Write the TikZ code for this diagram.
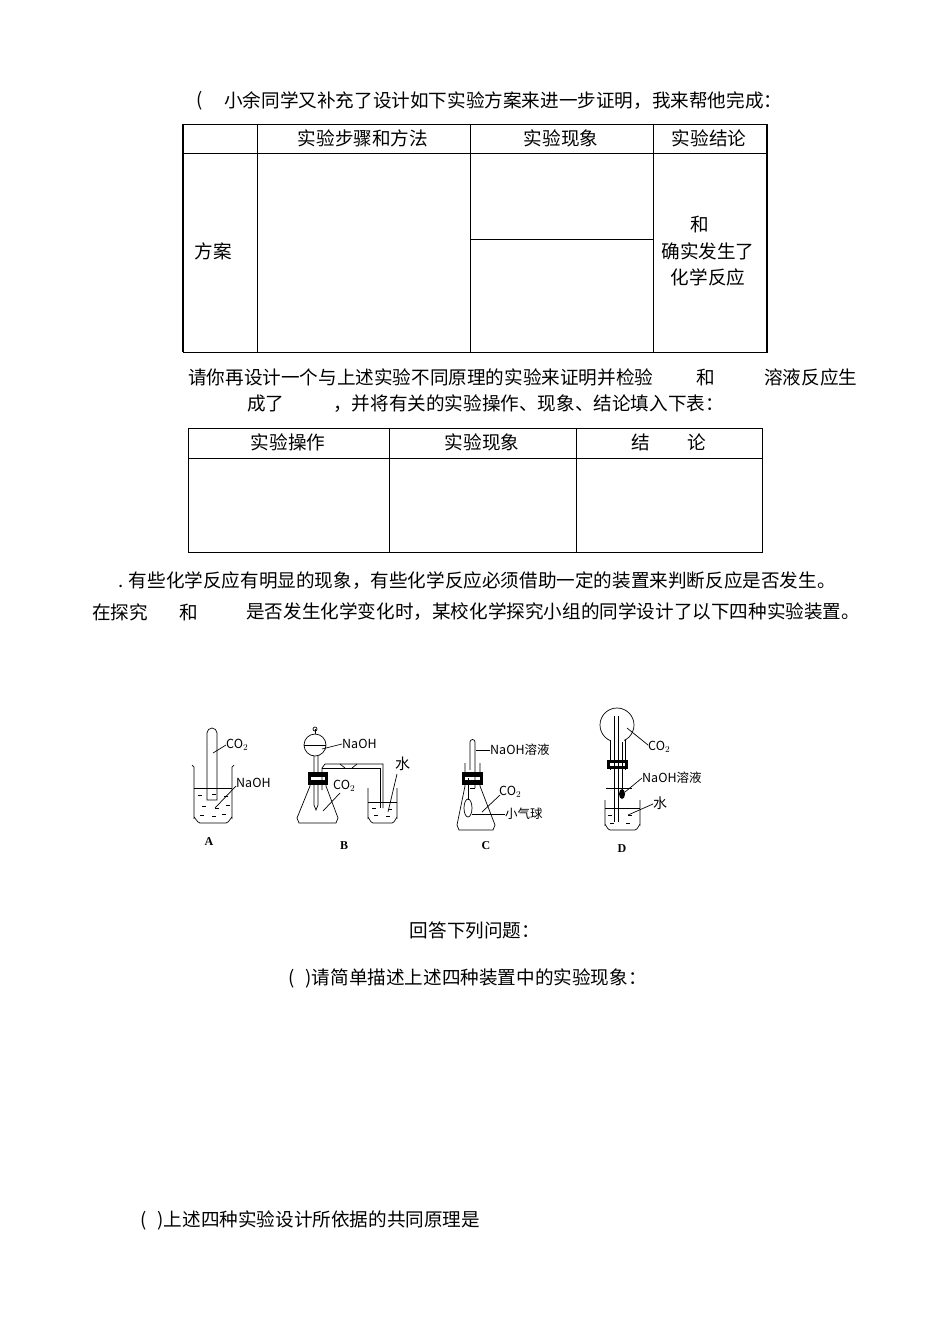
\documentclass[tikz,border=0pt]{standalone}
\usepackage{fontspec}
\setmainfont{Liberation Serif}
\newfontfamily\cjk{Noto Sans CJK SC}
\begin{document}
\begin{tikzpicture}[x=1pt,y=-1pt,
  txt/.style={inner sep=0pt,font=\cjk\fontsize{18.6}{20}\selectfont},
  lbl/.style={inner sep=0pt,font=\cjk\fontsize{12.5}{13}\selectfont,anchor=west},
  lt/.style={line width=0.8pt},
  ap/.style={line width=0.7pt}]
\useasboundingbox[fill=white] (0,0) rectangle (950,1344);
% line 1
\node[txt,anchor=west] (l1a) at (196,101) {(};
\node[txt,anchor=west] (l1b) at (224,101) {小余同学又补充了设计如下实验方案来进一步证明，我来帮他完成：};
% table 1
\draw[lt] (183,124) rectangle (767,352);
\draw[line width=1.6pt] (183,124) -- (183,352);
\draw[line width=1.6pt] (767,124) -- (767,352);
\draw[lt] (183,153) -- (767,153);
\draw[lt] (257,124) -- (257,352);
\draw[lt] (470,124) -- (470,352);
\draw[lt] (653,124) -- (653,352);
\draw[lt] (470,239) -- (653,239);
\node[txt] (h1) at (363,138) {实验步骤和方法};
\node[txt] (h2) at (561,138) {实验现象};
\node[txt] (h3) at (709,138) {实验结论};
\node[txt] (fa) at (213,251) {方案};
\node[txt] (c1) at (700,224) {和};
\node[txt] (c2) at (708,251) {确实发生了};
\node[txt] (c3) at (708,277) {化学反应};
% paragraph
\node[txt,anchor=west] (p1) at (188,377) {请你再设计一个与上述实验不同原理的实验来证明并检验};
\node[txt] (p2) at (706,377) {和};
\node[txt,anchor=west] (p3) at (764,377) {溶液反应生};
\node[txt,anchor=west] (p4) at (247,404) {成了};
\node[txt,anchor=west] (p5) at (333,404) {，并将有关的实验操作、现象、结论填入下表：};
% table 2
\draw[lt] (188,428) rectangle (762,552);
\draw[lt] (188,458) -- (762,458);
\draw[lt] (389,428) -- (389,552);
\draw[lt] (576,428) -- (576,552);
\node[txt] (t1) at (288,442) {实验操作};
\node[txt] (t2) at (482,442) {实验现象};
\node[txt] (t3) at (669,442) {结\hspace{2em}论};
% paragraph 2
\node[txt,anchor=west] (q1) at (118,581) {. 有些化学反应有明显的现象，有些化学反应必须借助一定的装置来判断反应是否发生。};
\node[txt,anchor=west] (q2) at (92,612) {在探究};
\node[txt] (q3) at (189,612) {和};
\node[txt,anchor=west] (q4) at (246,612) {是否发生化学变化时，某校化学探究小组的同学设计了以下四种实验装置。};
% ---------- apparatus A
\draw[ap] (192,765) -- (194,767) -- (194,818) to[out=90,in=180] (200,823) -- (226,823) to[out=0,in=90] (232,818) -- (232,767) -- (234,765);
\draw[ap] (194,788) -- (232,788);
\draw[ap] (207,800) -- (207,733) arc[start angle=180,end angle=360,radius=5] -- (217,800) -- cycle;
\foreach \x/\y in {198/795,212/794,224/796,202/806,215/808,226/805,200/815,212/816,222/814}{\draw[ap] (\x,\y) -- ++(4,0);}
\node[lbl] (aco) at (226,745) {CO$_2$};
\node[lbl] (ana) at (236,783) {NaOH};
\draw[ap] (213,753) -- (226,745);
\draw[ap] (215,808) -- (236,786);
\node[inner sep=0pt,font=\bfseries\fontsize{12}{12}\selectfont] (la) at (209,842) {A};
% ---------- apparatus B
\draw[ap] (315,745) circle[radius=11];
\draw[ap] (304,745) -- (326,745);
\draw[ap] (315,734) -- (315,729);
\draw[ap] (315,729) circle[radius=2];
\draw[ap] (314,756) -- (314,805) -- (316,810) -- (318,805) -- (318,756);
\draw[ap] (310,772) -- (310,786) -- (297,818) -- (299,823) -- (336,823) -- (338,818) -- (326,786) -- (326,772);
\fill (308,772) rectangle (328,785);
\fill[white] (311,777) rectangle (325,780);
\draw[ap] (322,790) -- (322,768) -- (325,764) -- (383,764) -- (383,808);
\draw[ap] (322,768) -- (380,768) -- (380,808);
\draw[ap] (340,764) -- (345,768) (357,764) -- (352,768);
\draw[ap] (368,788) -- (368,818) to[out=90,in=180] (373,823) -- (392,823) to[out=0,in=90] (397,818) -- (397,788);
\draw[ap] (368,802) -- (397,802);
\foreach \x/\y in {372/808,388/809,374/815,386/816}{\draw[ap] (\x,\y) -- ++(4,0);}
\node[lbl] (bna) at (342,744) {NaOH};
\draw[ap] (322,749) -- (342,744);
\node[lbl] (bco) at (333,786) {CO$_2$};
\draw[ap] (323,811) -- (340,793);
\node[lbl,font=\cjk\fontsize{15}{15}\selectfont] (bw) at (395,764) {水};
\draw[ap] (388,812) -- (397,774);
\node[inner sep=0pt,font=\bfseries\fontsize{12}{12}\selectfont] (lb) at (344,846) {B};
% ---------- apparatus C
\draw[ap] (465,763) -- (465,786) -- (457,825) -- (459,830) -- (493,830) -- (495,825) -- (480,786) -- (480,763);
\fill (462,772) rectangle (483,785);
\fill[white] (465,777) rectangle (480,780);
\draw[ap] (470,770) -- (470,742) arc[start angle=180,end angle=360,radius=2.5] -- (475,770) -- (475,788);
\draw[ap] (470,788) -- (475,788);
\draw[ap] (468,778) -- (468,800);
\draw[ap] (468,808) ellipse[x radius=4,y radius=9];
\node[lbl] (cna) at (490,750) {NaOH溶液};
\draw[ap] (476,750) -- (490,750);
\node[lbl] (cco) at (499,792) {CO$_2$};
\draw[ap] (482,812) -- (500,795);
\node[lbl] (cb) at (505,814) {小气球};
\draw[ap] (472,814) -- (505,814);
\node[inner sep=0pt,font=\bfseries\fontsize{12}{12}\selectfont] (lc) at (486,846) {C};
% ---------- apparatus D
\draw[ap] (617,725) circle[radius=17];
\fill[white] (611,735) rectangle (624,745);
\draw[ap] (610,740) -- (610,770) (625,740) -- (625,770);
\fill (607,760) rectangle (628,769);
\fill[white] (610,763) rectangle (625,766);
\draw[ap] (614,716) -- (614,822) (618,716) -- (618,822);
\draw[ap] (622,742) -- (622,790);
\fill (622,794) ellipse[x radius=3,y radius=5];
\draw[ap] (606,788) -- (632,788);
\draw[ap] (605,800) -- (605,825) to[out=90,in=180] (610,830) -- (635,830) to[out=0,in=90] (640,825) -- (640,800);
\draw[ap] (605,808) -- (640,808);
\foreach \x/\y in {608/815,628/815,610/823,626/823}{\draw[ap] (\x,\y) -- ++(4,0);}
\node[lbl] (dco) at (648,747) {CO$_2$};
\draw[ap] (627,728) -- (648,745);
\node[lbl] (dna) at (642,778) {NaOH溶液};
\draw[ap] (625,792) -- (642,778);
\node[lbl,font=\cjk\fontsize{14}{14}\selectfont] (dw) at (653,803) {水};
\draw[ap] (628,815) -- (653,804);
\node[inner sep=0pt,font=\bfseries\fontsize{12}{12}\selectfont] (ld) at (622,849) {D};
% questions
\node[txt] (r1) at (475,930) {回答下列问题：};
\node[txt,anchor=west] (r2) at (288,978) {(\hspace{0.6em})请简单描述上述四种装置中的实验现象：};
\node[txt,anchor=west] (r3) at (140,1220) {(\hspace{0.6em})上述四种实验设计所依据的共同原理是};
\end{tikzpicture}
\end{document}
